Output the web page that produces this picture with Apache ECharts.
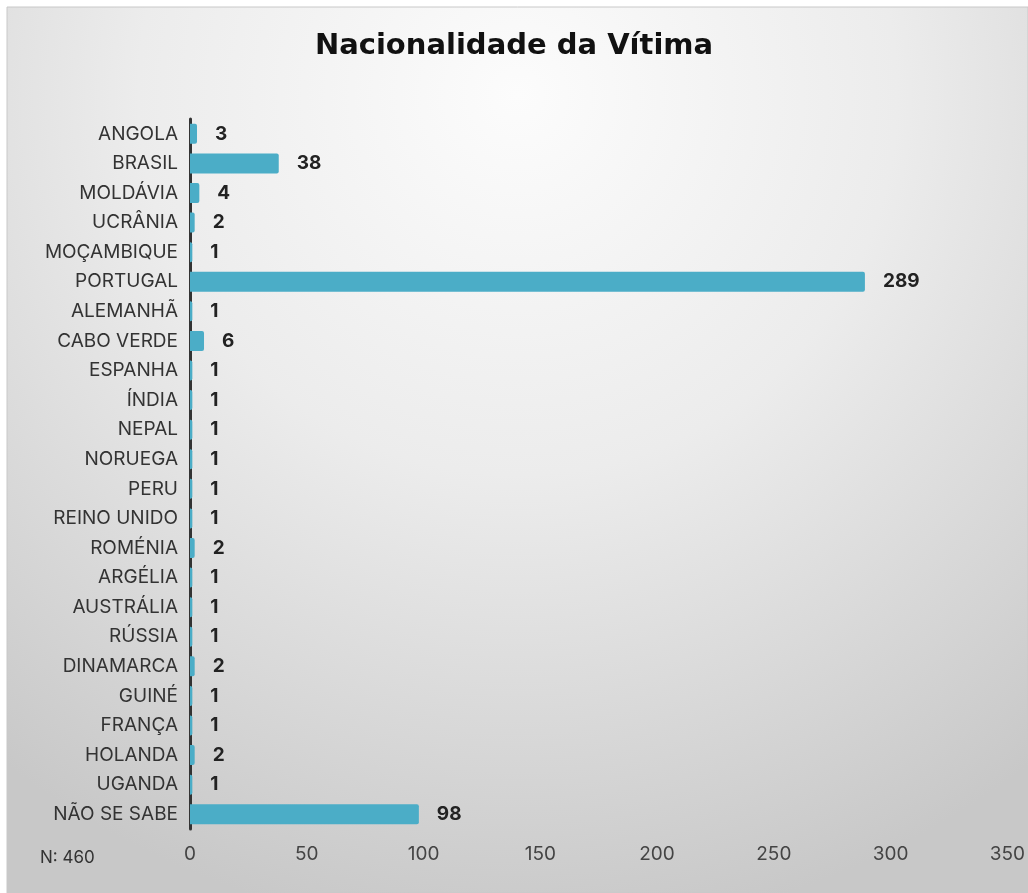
<!DOCTYPE html>
<html><head><meta charset="utf-8">
<script src="https://cdn.jsdelivr.net/npm/echarts@6/dist/echarts.min.js"></script>
<style>html,body{margin:0;padding:0;background:#fff}#c{width:1028px;height:893px}</style>
</head><body><div id="c"></div>
<script>
const categories = ["ANGOLA","BRASIL","MOLDÁVIA","UCRÂNIA","MOÇAMBIQUE","PORTUGAL","ALEMANHÃ","CABO VERDE","ESPANHA","ÍNDIA","NEPAL","NORUEGA","PERU","REINO UNIDO","ROMÉNIA","ARGÉLIA","AUSTRÁLIA","RÚSSIA","DINAMARCA","GUINÉ","FRANÇA","HOLANDA","UGANDA","NÃO SE SABE"];
const values = [3,38,4,2,1,289,1,6,1,1,1,1,1,1,2,1,1,1,2,1,1,2,1,98];
const xTicks = [0,50,100,150,200,250,300,350];
const titleText = "Nacionalidade da Vítima";
const noteText = "N: 460";

const chart = echarts.init(document.getElementById('c'), null, {renderer:'canvas'});
chart.setOption({
  animation:false,
  graphic:[
    {type:'rect', z:-10, shape:{x:7,y:7,width:1021,height:886},
     style:{fill:{type:'radial',x:0.5,y:0.1,r:0.95,colorStops:[{offset:0,color:'#fcfcfc'},{offset:0.45,color:'#ececec'},{offset:1,color:'#c8c8c8'}]},
            stroke:'#c8c8c8',lineWidth:1}},
    {type:'text', left:40, top:849, style:{text:noteText, font:'17px Inter, sans-serif', fill:'#333'}}
  ],
  title:{text:titleText,left:'center',top:27,textStyle:{fontFamily:'DejaVu Sans',fontWeight:'bold',fontSize:29,color:'#111'}},
  grid:{left:190,right:19,top:119,bottom:64,containLabel:false},
  xAxis:{type:'value',min:0,max:350,interval:50,
    axisLine:{show:false},axisTick:{show:false},splitLine:{show:false},
    axisLabel:{margin:16,fontSize:19,color:'#444',fontFamily:'Inter'}},
  yAxis:{type:'category',data:categories,inverse:true,
    axisLine:{show:true,lineStyle:{color:'#333',width:3}},axisTick:{show:false},
    axisLabel:{margin:12,fontSize:19,color:'#333',fontFamily:'Inter'}},
  series:[{type:'bar',data:values,barWidth:20,
    itemStyle:{color:'#4badc7',borderRadius:[0,2,2,0]},
    label:{show:true,position:'right',distance:18,fontSize:19,fontWeight:'bold',color:'#222',fontFamily:'Inter'}}]
});
</script></body></html>
